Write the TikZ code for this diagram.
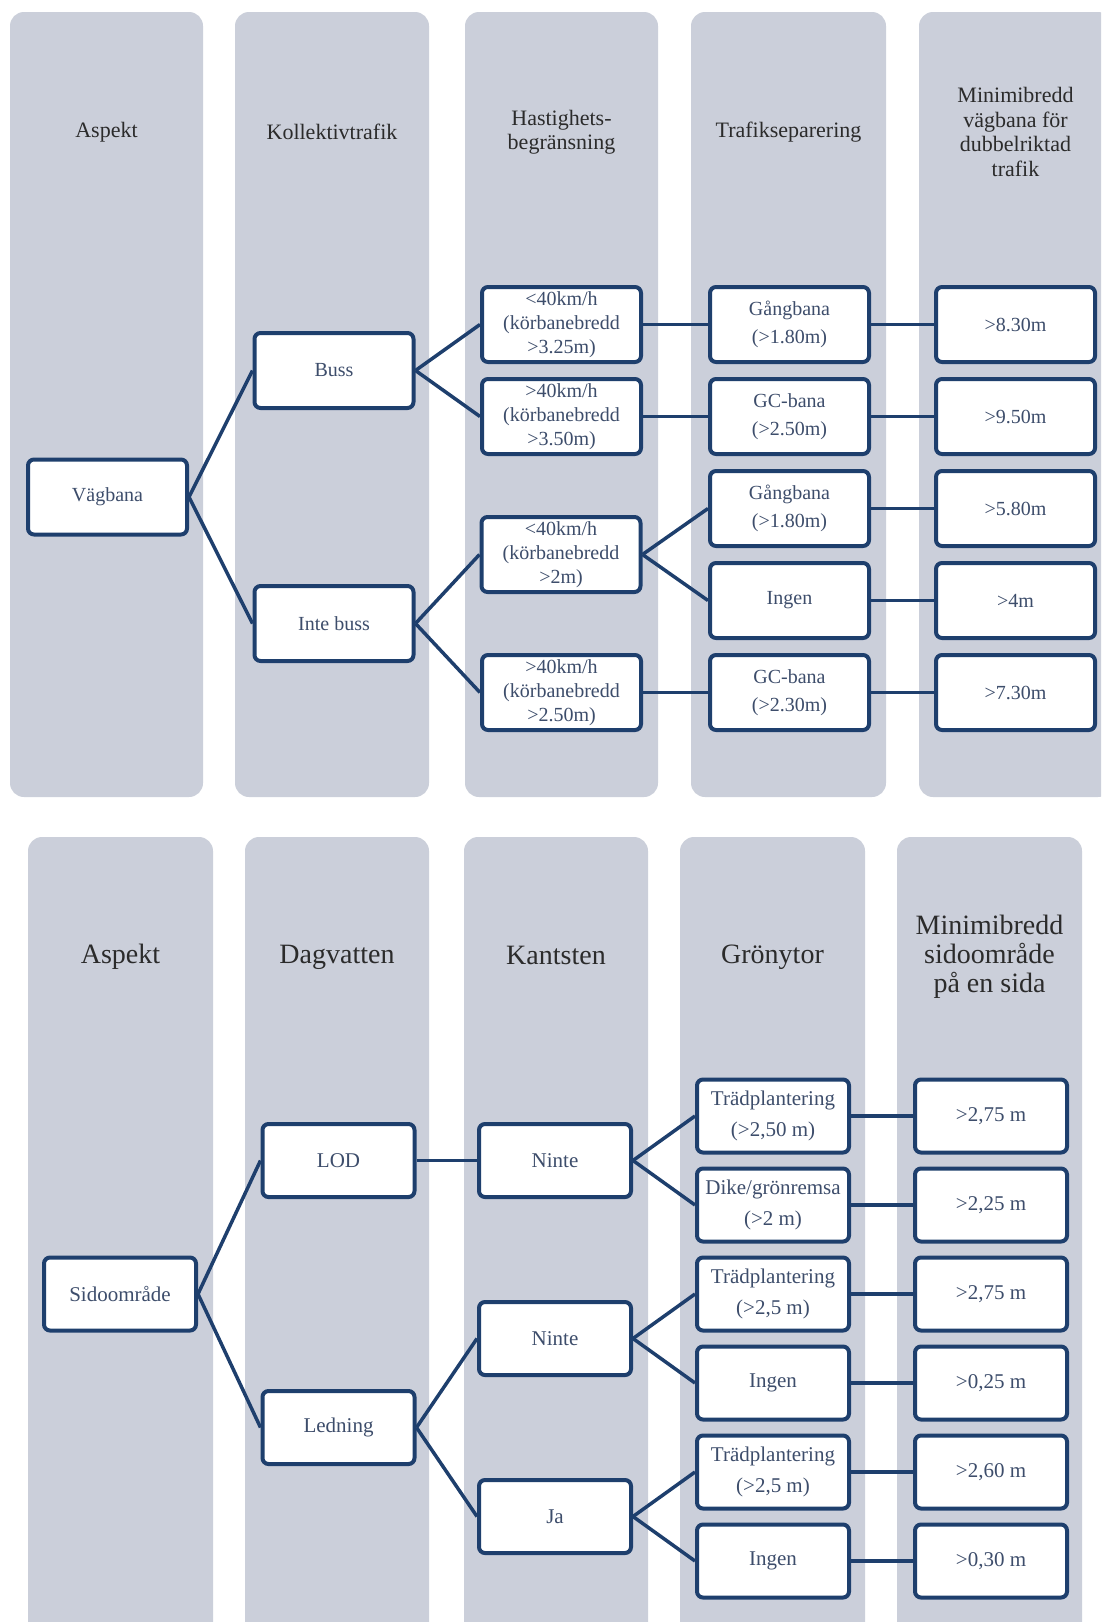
\documentclass[tikz,border=0pt]{standalone}
\usepackage{fontspec}
\setmainfont{Liberation Serif}
\usetikzlibrary{positioning}

\definecolor{lanegray}{HTML}{CBCFDA}
\definecolor{boxblue}{HTML}{1E3F6D}
\definecolor{boxtext}{HTML}{3D4D6B}
\definecolor{headtext}{HTML}{2B2B2B}

\begin{document}
\begin{tikzpicture}[
    x=1pt, y=-1pt,
    lane/.style={fill=lanegray, rounded corners=14pt},
    head/.style={text=headtext, align=center, font=\fontsize{22}{24.5}\selectfont},
    bighead/.style={text=headtext, align=center, font=\fontsize{28}{29}\selectfont},
    choice/.style={draw=boxblue, line width=4pt, rounded corners=6pt, fill=white,
        text=boxtext, align=center, inner sep=2pt,
        minimum width=159pt, minimum height=75pt, font=\fontsize{20}{28}\selectfont},
    speed/.style={choice, font=\fontsize{20}{24}\selectfont},
    side/.style={choice, minimum width=152pt, minimum height=73pt,
        font=\fontsize{21}{31}\selectfont},
    link/.style={draw=boxblue, line width=3.5pt}
]
\clip (0,0) rectangle (1101,1622);

% lanes, upper tree
\fill[lane] (10,12) rectangle (203,797);
\fill[lane] (235,12) rectangle (429,797);
\fill[lane] (465,12) rectangle (658,797);
\fill[lane] (691,12) rectangle (886,797);
\fill[lane] (919,12) rectangle (1112,797);

% lanes, lower tree
\fill[lane] (28,837) rectangle (213,1660);
\fill[lane] (245,837) rectangle (429,1660);
\fill[lane] (464,837) rectangle (648,1660);
\fill[lane] (680,837) rectangle (865,1660);
\fill[lane] (897,837) rectangle (1082,1660);

% headers, upper tree
\node[head] (hAsp) at (106.5,132) {Aspekt};
\node[head] (hKoll) at (332,132) {Kollektivtrafik};
\node[head] (hHast) at (561.5,132) {Hastighets-\\begränsning};
\node[head] (hSep) at (788.5,132) {Trafikseparering};
\node[head] (hMinA) at (1015.5,132) {Minimibredd\\vägbana för\\dubbelriktad\\trafik};

% headers, lower tree
\node[bighead] (hAspB) at (120.5,957) {Aspekt};
\node[bighead] (hDag) at (337,957) {Dagvatten};
\node[bighead] (hKant) at (556,955) {Kantsten};
\node[bighead] (hGron) at (772.5,957) {Grönytor};
\node[bighead] (hMinB) at (989.5,957) {Minimibredd\\sidoområde\\på en sida};

% upper tree
\node[choice] (sep1) at (789.5,324.5) {Gångbana\\(>1.80m)};
\node[choice, below=13pt of sep1] (sep2) {GC-bana\\(>2.50m)};
\node[choice, below=13pt of sep2] (sep3) {Gångbana\\(>1.80m)};
\node[choice, below=13pt of sep3] (sep4) {Ingen};
\node[choice, below=13pt of sep4] (sep5) {GC-bana\\(>2.30m)};

\node[choice, right=63pt of sep1] (minA1) {>8.30m};
\node[choice, right=63pt of sep2] (minA2) {>9.50m};
\node[choice, right=63pt of sep3] (minA3) {>5.80m};
\node[choice, right=63pt of sep4] (minA4) {>4m};
\node[choice, right=63pt of sep5] (minA5) {>7.30m};

\node[speed, left=65pt of sep1] (spd1) {<40km/h\\(körbanebredd\\>3.25m)};
\node[speed, left=65pt of sep2] (spd2) {>40km/h\\(körbanebredd\\>3.50m)};
\node[speed] (spd3) at (561,554.5) {<40km/h\\(körbanebredd\\>2m)};
\node[speed, left=65pt of sep5] (spd4) {>40km/h\\(körbanebredd\\>2.50m)};

\node[choice] (buss) at (334,370.5) {Buss};
\node[choice] (intebuss) at (334,623.5) {Inte buss};
\node[choice] (vagbana) at (107.5,497) {Vägbana};

\draw[link] (vagbana.east) -- (buss.west);
\draw[link] (vagbana.east) -- (intebuss.west);
\draw[link] (buss.east) -- (spd1.west);
\draw[link] (buss.east) -- (spd2.west);
\draw[link] (intebuss.east) -- (spd3.west);
\draw[link] (intebuss.east) -- (spd4.west);
\draw[link] (spd1) -- (sep1);
\draw[link] (spd2) -- (sep2);
\draw[link] (spd3.east) -- (sep3.west);
\draw[link] (spd3.east) -- (sep4.west);
\draw[link] (spd4) -- (sep5);
\draw[link] (sep1) -- (minA1);
\draw[link] (sep2) -- (minA2);
\draw[link] (sep3) -- (minA3);
\draw[link] (sep4) -- (minA4);
\draw[link] (sep5) -- (minA5);

% lower tree
\node[side] (gron1) at (773,1116) {Trädplantering\\(>2,50 m)};
\node[side, below=12pt of gron1] (gron2) {Dike/grönremsa\\(>2 m)};
\node[side, below=12pt of gron2] (gron3) {Trädplantering\\(>2,5 m)};
\node[side, below=12pt of gron3] (gron4) {Ingen};
\node[side, below=12pt of gron4] (gron5) {Trädplantering\\(>2,5 m)};
\node[side, below=12pt of gron5] (gron6) {Ingen};

\node[side, right=62pt of gron1] (minB1) {>2,75 m};
\node[side, right=62pt of gron2] (minB2) {>2,25 m};
\node[side, right=62pt of gron3] (minB3) {>2,75 m};
\node[side, right=62pt of gron4] (minB4) {>0,25 m};
\node[side, right=62pt of gron5] (minB5) {>2,60 m};
\node[side, right=62pt of gron6] (minB6) {>0,30 m};

\node[side] (kant1) at (555,1160.5) {Ninte};
\node[side] (kant2) at (555,1338.5) {Ninte};
\node[side] (kant3) at (555,1516.5) {Ja};

\node[side] (lod) at (338.5,1160.5) {LOD};
\node[side] (ledning) at (338.5,1427.5) {Ledning};
\node[side] (sido) at (120,1294) {Sidoområde};

\draw[link] (sido.east) -- (lod.west);
\draw[link] (sido.east) -- (ledning.west);
\draw[link] (lod) -- (kant1);
\draw[link] (ledning.east) -- (kant2.west);
\draw[link] (ledning.east) -- (kant3.west);
\draw[link] (kant1.east) -- (gron1.west);
\draw[link] (kant1.east) -- (gron2.west);
\draw[link] (kant2.east) -- (gron3.west);
\draw[link] (kant2.east) -- (gron4.west);
\draw[link] (kant3.east) -- (gron5.west);
\draw[link] (kant3.east) -- (gron6.west);
\draw[link] (gron1) -- (minB1);
\draw[link] (gron2) -- (minB2);
\draw[link] (gron3) -- (minB3);
\draw[link] (gron4) -- (minB4);
\draw[link] (gron5) -- (minB5);
\draw[link] (gron6) -- (minB6);

\end{tikzpicture}
\end{document}
